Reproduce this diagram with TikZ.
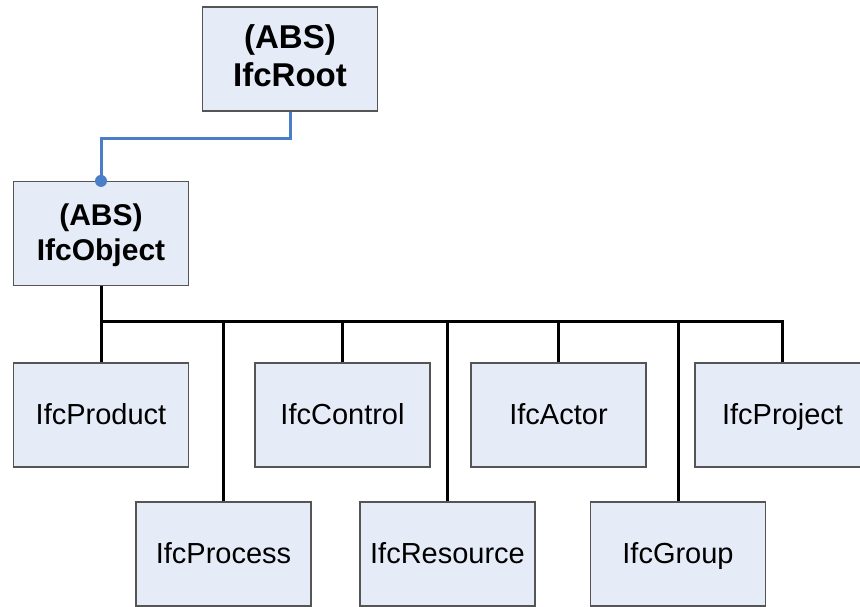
\documentclass[tikz,border=0pt]{standalone}
\usepackage{fontspec}
\setmainfont{Liberation Sans}
\definecolor{boxfill}{HTML}{E6ECF7}
\definecolor{boxline}{HTML}{555555}
\definecolor{linkblue}{HTML}{4A7EC8}
\begin{document}
\begin{tikzpicture}[x=1pt,y=-1pt,
  boxbase/.style={draw=boxline,line width=1.2pt,fill=boxfill,minimum width=175pt,minimum height=104pt,inner sep=0pt},
  cls/.style={boxbase,text height=21pt,text depth=3pt,font=\fontsize{29}{35}\selectfont},
  absroot/.style={boxbase,align=center,text height=61.6pt,text depth=6pt,font=\fontsize{33}{38}\selectfont\bfseries},
  absobj/.style={boxbase,align=center,text height=56.5pt,text depth=2pt,font=\fontsize{30}{35}\selectfont\bfseries},
  bus/.style={line width=3pt,black},
  inh/.style={line width=3pt,linkblue}]
\useasboundingbox (0,0) rectangle (860,606);
\clip (0,0) rectangle (860,606);
\node[absroot] (root) at (290,59) {(ABS)\\IfcRoot};
\node[absobj] (obj) at (101,233.5) {(ABS)\\IfcObject};
\node[cls] (prod) at (101,415) {IfcProduct};
\node[cls] (ctrl) at (342.5,415) {IfcControl};
\node[cls] (actor) at (558.5,415) {IfcActor};
\node[cls] (proj) at (782.5,415) {IfcProject};
\node[cls] (proc) at (223.5,554) {IfcProcess};
\node[cls] (res) at (447.5,554) {IfcResource};
\node[cls] (grp) at (678,554) {IfcGroup};
\coordinate (bend) at (0,138);
\coordinate (busy) at (0,321.5);
\draw[inh,line join=miter] (root.south) -- (root.south |- bend) -- (obj.north |- bend) -- (obj.north);
\fill[linkblue] (obj.north) circle (6pt);
\draw[bus] (obj.south) -- (prod.north);
\draw[bus,line join=miter] (obj.south |- busy) -- (proj.north |- busy) -- (proj.north);
\draw[bus] (proc.north |- busy) -- (proc.north);
\draw[bus] (ctrl.north |- busy) -- (ctrl.north);
\draw[bus] (res.north |- busy) -- (res.north);
\draw[bus] (actor.north |- busy) -- (actor.north);
\draw[bus] (grp.north |- busy) -- (grp.north);
\end{tikzpicture}
\end{document}
